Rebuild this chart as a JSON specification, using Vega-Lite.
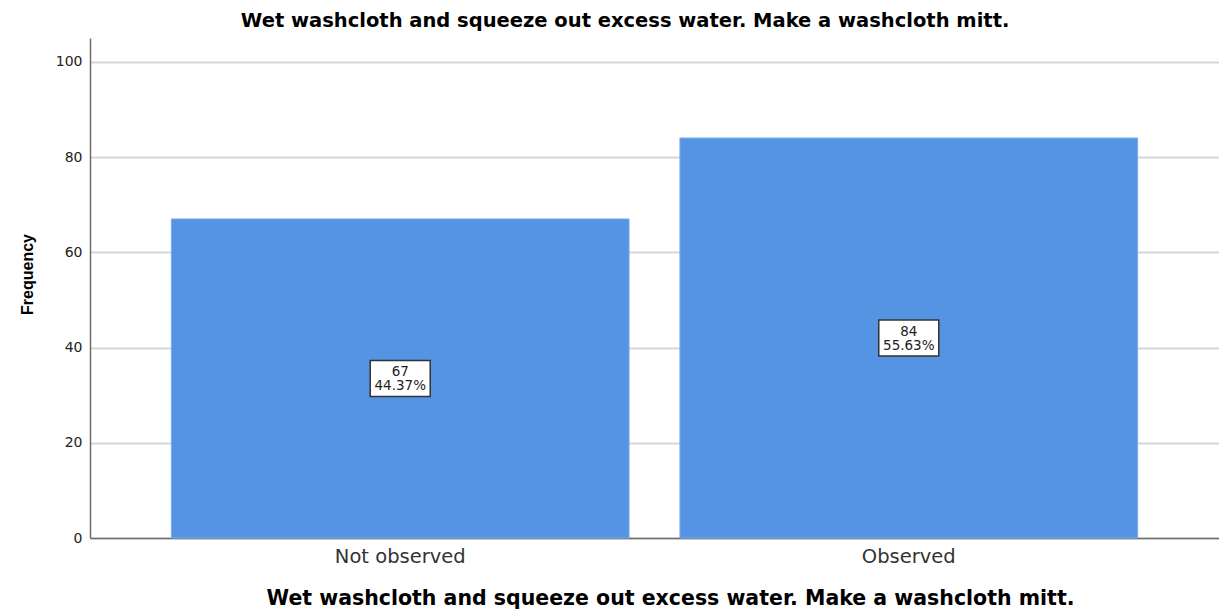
{
  "$schema": "https://vega.github.io/schema/vega-lite/v6.json",
  "width": 1129,
  "height": 500,
  "autosize": {"type": "none"},
  "padding": {"left": 90, "top": 38, "right": 0, "bottom": 72},
  "background": "white",
  "title": {
    "text": "Wet washcloth and squeeze out excess water. Make a washcloth mitt.",
    "frame": "bounds",
    "anchor": "middle",
    "font": "DejaVu Sans",
    "fontSize": 19.5,
    "fontWeight": "bold",
    "color": "#000000",
    "offset": 7,
    "dx": 6
  },
  "data": {
    "values": [
      {"category": "Not observed", "count": 67, "label": "67\n44.37%"},
      {"category": "Observed", "count": 84, "label": "84\n55.63%"}
    ]
  },
  "encoding": {
    "x": {
      "field": "category",
      "type": "nominal",
      "sort": null,
      "scale": {"paddingInner": 0.1, "paddingOuter": 0.16},
      "axis": {
        "title": "Wet washcloth and squeeze out excess water. Make a washcloth mitt.",
        "titleFont": "DejaVu Sans",
        "titleFontSize": 20.5,
        "titleFontWeight": "bold",
        "titleColor": "#000000",
        "titleX": 580,
        "titlePadding": 23,
        "labelAngle": 0,
        "labelFont": "DejaVu Sans",
        "labelFontSize": 19.5,
        "labelColor": "#333333",
        "labelPadding": 9,
        "ticks": false,
        "domainColor": "#6e6e6e",
        "domainWidth": 1.5,
        "grid": false
      }
    }
  },
  "layer": [
    {
      "mark": {"type": "bar", "color": "#5594e2", "stroke": "#7aaaf0", "strokeWidth": 1},
      "encoding": {
        "y": {
          "field": "count",
          "type": "quantitative",
          "scale": {"domain": [0, 105], "nice": false},
          "axis": {
            "title": "Frequency",
            "titleFont": "Liberation Sans",
            "titleFontSize": 16,
            "titleFontWeight": "bold",
            "titleColor": "#000000",
            "titlePadding": 20,
            "titleY": 236,
            "values": [0, 20, 40, 60, 80, 100],
            "labelFont": "DejaVu Sans",
            "labelFontSize": 14,
            "labelColor": "#222222",
            "labelPadding": 8,
            "ticks": false,
            "domainColor": "#6e6e6e",
            "domainWidth": 1.5,
            "grid": true,
            "gridColor": "#d6d6d6",
            "gridWidth": 2
          }
        }
      }
    },
    {
      "mark": {"type": "point", "filled": true, "fill": "white", "stroke": "#333333", "strokeWidth": 1.5, "opacity": 1, "shape": "M-1,-0.6L1,-0.6L1,0.6L-1,0.6Z", "size": 3600},
      "encoding": {
        "y": {"field": "count", "type": "quantitative", "scale": {"domain": [0, 210], "nice": false}, "axis": null}
      }
    },
    {
      "mark": {"type": "text", "font": "DejaVu Sans", "fontSize": 13.5, "color": "#222222", "lineBreak": "\n", "lineHeight": 14, "baseline": "middle", "align": "center", "dy": -6},
      "encoding": {
        "y": {"field": "count", "type": "quantitative", "scale": {"domain": [0, 210], "nice": false}, "axis": null},
        "text": {"field": "label", "type": "nominal"}
      }
    }
  ],
  "resolve": {"scale": {"y": "independent"}},
  "config": {
    "view": {"stroke": null}
  }
}
